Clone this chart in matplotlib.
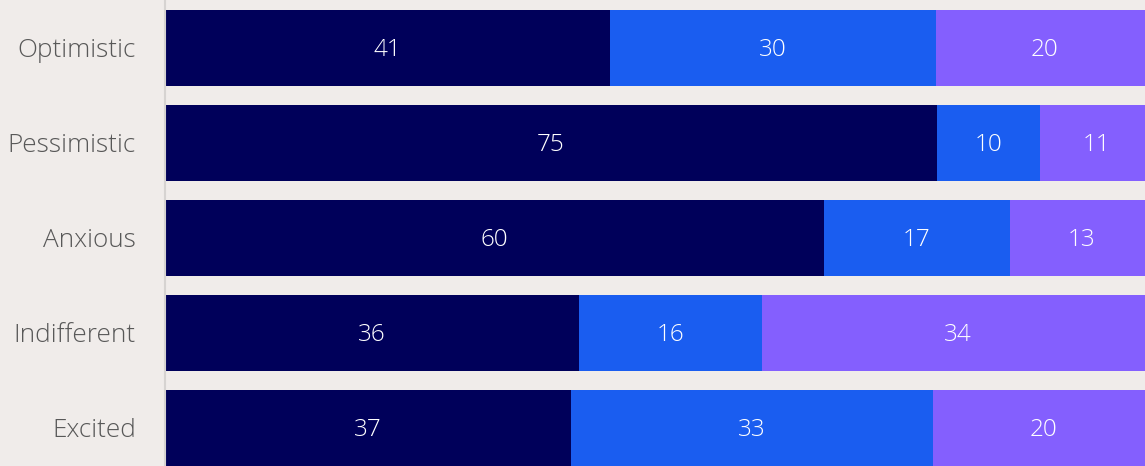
import numpy as np
import matplotlib.pyplot as plt

categories = ["Optimistic", "Pessimistic", "Anxious", "Indifferent", "Excited"]
series_a = [41, 75, 60, 36, 37]
series_b = [30, 10, 17, 16, 33]
series_c = [20, 11, 13, 34, 20]

colors = ["#00005a", "#1a5df0", "#845ffe"]
bg = "#f0ecea"

plt.rcParams["font.family"] = ["Open Sans", "DejaVu Sans"]
plt.rcParams["font.weight"] = "light"

fig = plt.figure(figsize=(11.45, 4.66), dpi=100, facecolor=bg)
ax = fig.add_axes([165 / 1145, 0, 1 - 165 / 1145, 1], facecolor=bg)

# each row is shown as share of its own total
vals = np.array([series_a, series_b, series_c], dtype=float)
shares = vals / vals.sum(axis=0) * 100
y = np.arange(len(categories))

left = np.zeros(len(categories))
for k in range(3):
    ax.barh(y, shares[k], left=left, height=0.8, color=colors[k], linewidth=0)
    for i in range(len(categories)):
        ax.text(left[i] + shares[k][i] / 2, y[i] + 0.02, str(int(vals[k][i])),
                ha="center", va="center", color="white", fontsize=17.5)
    left += shares[k]

ax.set_xlim(0, 100 * (1145 - 165) / 988)
ax.set_ylim(4.4, -0.505)
ax.set_yticks(y)
ax.set_yticklabels(categories, fontsize=18.8, color="#585858")
ax.tick_params(axis="y", length=0, pad=21)
ax.set_xticks([])
for s in ["top", "right", "bottom"]:
    ax.spines[s].set_visible(False)
ax.spines["left"].set_color("#d6d3d1")
ax.spines["left"].set_linewidth(1.5)

plt.savefig("out.png", dpi=100, facecolor=bg)
plt.close()
